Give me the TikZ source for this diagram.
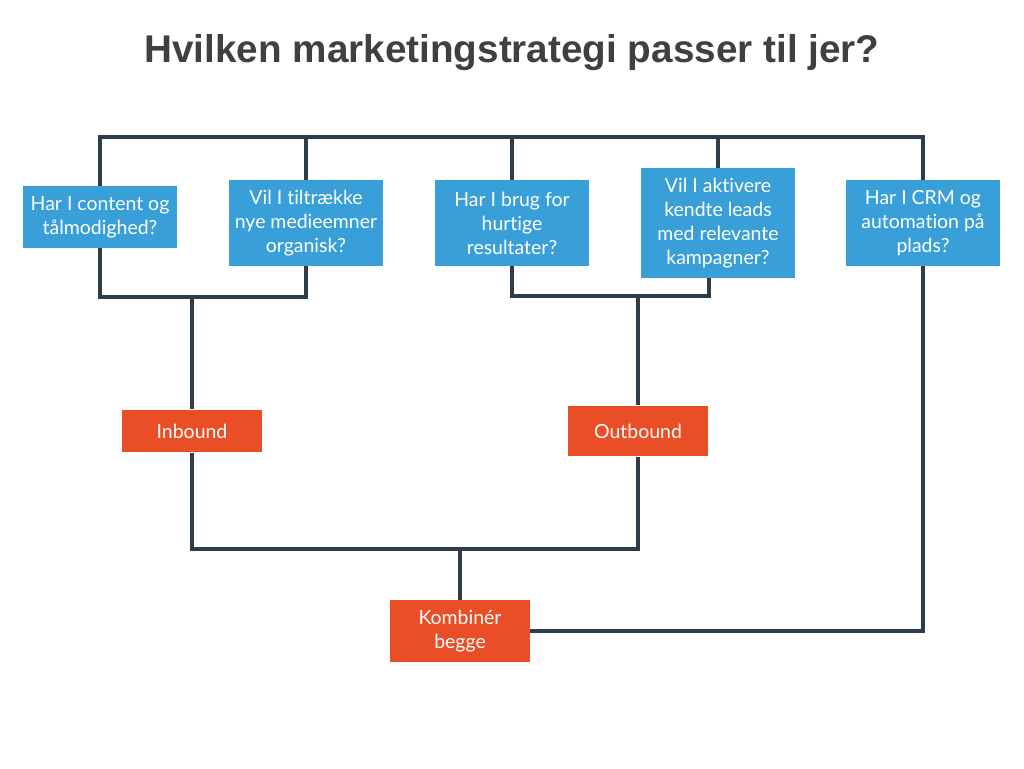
\documentclass[tikz,border=0pt]{standalone}
\usepackage{fontspec}
\setmainfont{Lato}[Ligatures=NoCommon]
\newfontfamily\titlefont{Liberation Sans}
\usepackage{xcolor}
\usetikzlibrary{positioning}
\definecolor{qblue}{HTML}{389FD8}
\definecolor{aorange}{HTML}{E94E27}
\definecolor{wirecol}{HTML}{2E3D4B}
\definecolor{titlegray}{HTML}{404040}
\tikzstyle{question} = [rectangle, minimum width=116pt, minimum height=46pt, inner sep=0pt,
text centered, align=center, font=\fontsize{14.6}{18}\selectfont, text=white, fill=qblue]
\tikzstyle{answer} = [rectangle, minimum width=105pt, minimum height=33pt, inner sep=0pt,
text centered, align=center, font=\fontsize{14.6}{18}\selectfont, text=white, fill=aorange]
\tikzstyle{wire} = [draw=wirecol, line width=3.6pt, line join=miter]

\begin{document}
\begin{tikzpicture}[x=0.75pt, y=-0.75pt]
    \useasboundingbox[fill=white] (0,0) rectangle (1024,768);
    \node (title) at (512,53) [font=\titlefont\bfseries\fontsize{29}{34}\selectfont, text=titlegray]
    {Hvilken marketingstrategi passer til jer?};

    \node (q1) at (100,217) [question] {Har I content og\\tålmodighed?};
    \node (q2) at (306,223) [question, minimum height=64pt] {Vil I tiltrække\\nye medieemner\\organisk?};
    \node (q3) at (512,223) [question, minimum height=64pt] {Har I brug for\\hurtige\\resultater?};
    \node (q4) at (718,223) [question, minimum height=82pt] {Vil I aktivere\\kendte leads\\med relevante\\kampagner?};
    \node (q5) at (923,223) [question, minimum height=64pt] {Har I CRM og\\automation på\\plads?};

    \node (inb) at (192,431) [answer, minimum height=32pt] {Inbound};
    \node (outb) at (638,431) [answer, minimum height=38pt] {Outbound};
    \node (komb) at (460,631) [answer, minimum height=46pt] {Kombinér\\begge};

    \coordinate (tl) at (100,137);
    \coordinate (tr) at (923,137);
    \coordinate (j1) at (192,297);
    \coordinate (j2) at (638,296);
    \coordinate (j3) at (460,549);

    % top bar
    \draw[wire] (q1.north) -- (tl) -- (tr) -- (q5.north);
    \draw[wire] (q2.north) -- (q2.north |- tl);
    \draw[wire] (q3.north) -- (q3.north |- tl);
    \draw[wire] (q4.north) -- (q4.north |- tl);
    % inbound
    \draw[wire] (q1.south) |- (j1) -| (q2.south);
    \draw[wire] (j1) -- (inb);
    % outbound
    \draw[wire] (q3.south) |- (j2) -| ([xshift=-6.75pt]q4.south);
    \draw[wire] (j2) -- (outb);
    % both
    \draw[wire] (inb) |- (j3) -| (outb);
    \draw[wire] (j3) -- (komb);
    \draw[wire] (q5) |- (komb);
\end{tikzpicture}
\end{document}
